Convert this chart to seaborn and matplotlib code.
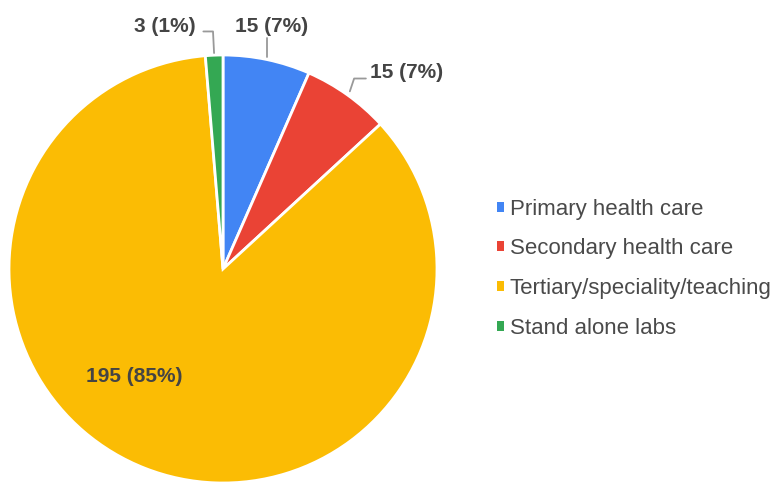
import numpy as np
import seaborn as sns
import matplotlib.pyplot as plt
from matplotlib.patches import Patch

### data ###
categories = ["Primary health care", "Secondary health care",
              "Tertiary/speciality/teaching", "Stand alone labs"]
counts = [15, 15, 195, 3]
pct_labels = ["15 (7%)", "15 (7%)", "195 (85%)", "3 (1%)"]
colors = ["#4285F4", "#EA4335", "#FBBC04", "#34A853"]

sns.set_theme(style="white")
plt.rcParams['font.family'] = ['Liberation Sans', 'DejaVu Sans']

fig = plt.figure(figsize=(7.78, 4.92), dpi=100)
ax = fig.add_axes([0, 0, 1, 1])

# pie radius 1 -> 214 px, center at px (223, 269 from top)
R = 214.0

wedges, _ = ax.pie(counts, colors=colors, startangle=90, counterclock=False,
                   radius=1, center=(0, 0), frame=True,
                   wedgeprops=dict(edgecolor='white', linewidth=2))
ax.set_xlim(-223 / R, (778 - 223) / R)
ax.set_ylim(-(492 - 269) / R, 269 / R)
ax.set_aspect('equal')
ax.axis('off')

# slice mid angles
tot = sum(counts)
cum = np.cumsum([0] + counts[:-1])
mids = [90 - (c + v / 2) / tot * 360 for c, v in zip(cum, counts)]

txt = dict(fontsize=15, fontweight='bold', color='#444444')
line = dict(color='#999999', lw=1.3)

def edge(i, r=1.0):
    a = np.deg2rad(mids[i])
    return r * np.cos(a), r * np.sin(a)

# slice 1 (primary)
x0, y0 = edge(0, 1.01)
ax.plot([x0, x0], [y0, 1.08], **line)
ax.text(0.225, 1.135, pct_labels[0], ha='center', va='center', **txt)

# slice 2 (secondary)
x0, y0 = edge(1, 1.02)
ax.plot([x0, x0 + 0.02, x0 + 0.075], [y0, y0 + 0.06, y0 + 0.06], **line)
ax.text(x0 + 0.095, 0.92, pct_labels[1], ha='left', va='center', **txt)

# slice 3 (tertiary) inside
ax.text(-0.414, -0.50, pct_labels[2], ha='center', va='center', **txt)

# slice 4 (stand alone)
x0, y0 = edge(3, 1.01)
ax.plot([x0, x0 - 0.005, x0 - 0.05], [y0, 1.11, 1.11], **line)
ax.text(x0 - 0.085, 1.135, pct_labels[3], ha='right', va='center', **txt)

handles = [Patch(facecolor=c, edgecolor='none') for c in colors]
leg = fig.legend(handles, categories, loc='center left', bbox_to_anchor=(0.613, 0.454),
                 frameon=False, fontsize=16, handlelength=0.32, handleheight=0.32,
                 handletextpad=0.25, labelspacing=0.84)
for t in leg.get_texts():
    t.set_color('#4a4a4a')

plt.savefig('out.png', dpi=100)
